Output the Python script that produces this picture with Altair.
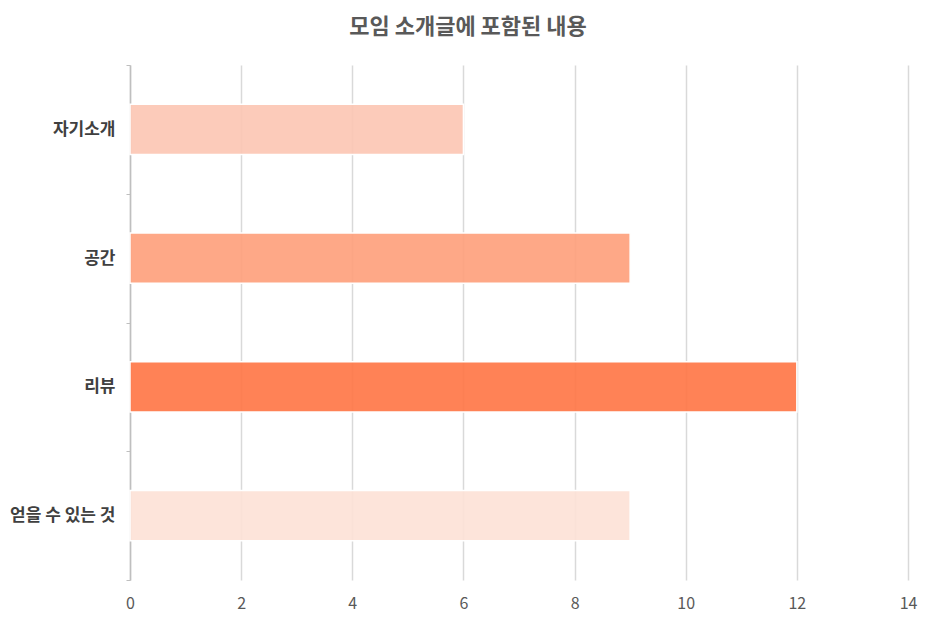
import altair as alt
import pandas as pd

categories = ["자기소개", "공간", "리뷰", "얻을 수 있는 것"]
values = [6, 9, 12, 9]
colors = ["#FCC5B2", "#FE9E7A", "#FF7444", "#FDE1D6"]
x_ticks = [0, 2, 4, 6, 8, 10, 12, 14]

df = pd.DataFrame({"category": categories, "value": values})

FONT = "Noto Sans CJK KR"

chart = alt.Chart(df).mark_bar(
    stroke="white", strokeWidth=1.5, fillOpacity=0.9, height={"band": 0.39}
).encode(
    y=alt.Y("category:N", sort=categories, title=None,
            scale=alt.Scale(paddingInner=0, paddingOuter=0),
            axis=alt.Axis(tickBand="extent", labelFont=FONT, labelFontSize=17,
                          labelFontWeight="bold", labelColor="#404040",
                          domainColor="#bfbfbf", domainWidth=1.5,
                          tickColor="#bfbfbf", tickSize=4, labelPadding=11,
                          grid=False)),
    x=alt.X("value:Q", title=None,
            scale=alt.Scale(domain=[0, 14], nice=False),
            axis=alt.Axis(values=x_ticks, domain=False, ticks=False,
                          labelFlush=False, labelFont=FONT, labelFontSize=16,
                          labelColor="#595959", labelPadding=15,
                          gridColor="#d9d9d9", gridWidth=1.5)),
    color=alt.Color("category:N", scale=alt.Scale(domain=categories, range=colors),
                    legend=None),
).properties(
    width=778, height=515,
    title=alt.TitleParams("모임 소개글에 포함된 내용", font=FONT, fontSize=22,
                          fontWeight="bold", color="#595959", anchor="middle",
                          dx=-51, offset=17),
    autosize=alt.AutoSizeParams(type="none"),
    padding={"left": 122, "top": 57, "right": 20, "bottom": 40},
).configure_view(stroke=None)

chart.save("out.html", embed_options={"renderer": "svg", "actions": False})
